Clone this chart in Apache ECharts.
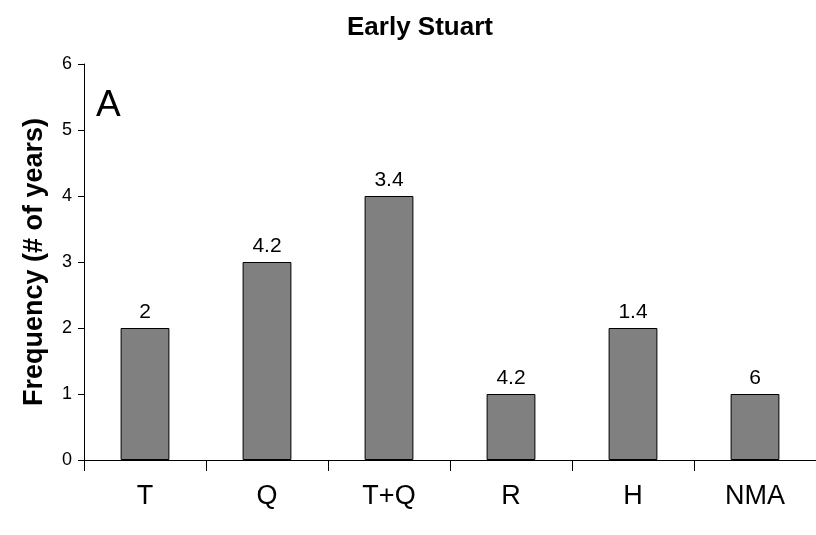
<!DOCTYPE html>
<html>
<head>
<meta charset="utf-8">
<script src="https://cdn.jsdelivr.net/npm/echarts@6/dist/echarts.min.js"></script>
<style>
html,body{margin:0;padding:0;background:#fff;}
#chart{width:816px;height:535px;}
</style>
</head>
<body>
<div id="chart"></div>
<script>
var categories = ['T', 'Q', 'T+Q', 'R', 'H', 'NMA'];
var frequencies = [2, 3, 4, 1, 2, 1];
var barLabels = ['2', '4.2', '3.4', '4.2', '1.4', '6'];
var yTicks = [0, 1, 2, 3, 4, 5, 6];

var chart = echarts.init(document.getElementById('chart'), null, {renderer: 'canvas'});
var FONT = "'Liberation Sans', Arial, sans-serif";
chart.setOption({
  backgroundColor: '#ffffff',
  animation: false,
  title: [
    {
      text: 'Early Stuart',
      left: 342, top: 10,
      textStyle: {fontFamily: FONT, fontSize: 26, fontWeight: 'bold', color: '#000'}
    },
    {
      text: 'A',
      left: 91, top: 82,
      textStyle: {fontFamily: FONT, fontSize: 37, fontWeight: 'normal', color: '#000'}
    }
  ],
  grid: {left: 84, right: -4, top: 64, bottom: 75, containLabel: false},
  xAxis: {
    type: 'category',
    data: categories,
    axisLine: {lineStyle: {color: '#000', width: 1}},
    axisTick: {show: true, length: 11, lineStyle: {color: '#000'}},
    axisLabel: {fontFamily: FONT, fontSize: 27, color: '#000', margin: 23}
  },
  yAxis: {
    type: 'value',
    min: yTicks[0], max: yTicks[yTicks.length - 1], interval: 1,
    name: 'Frequency (# of years)',
    nameLocation: 'middle',
    nameGap: 36,
    nameTextStyle: {fontFamily: FONT, fontSize: 27, fontWeight: 'bold', color: '#000'},
    axisLine: {show: true, lineStyle: {color: '#000', width: 1}},
    axisTick: {show: true, length: 6, lineStyle: {color: '#000'}},
    axisLabel: {fontFamily: FONT, fontSize: 18, color: '#000', margin: 12},
    splitLine: {show: false}
  },
  series: [{
    type: 'bar',
    data: frequencies,
    barWidth: '40%',
    itemStyle: {color: '#808080', borderColor: '#000', borderWidth: 1},
    label: {
      show: true, position: 'top', distance: 5,
      fontFamily: FONT, fontSize: 21, color: '#000',
      formatter: function (p) { return barLabels[p.dataIndex]; }
    }
  }]
});
</script>
</body>
</html>
